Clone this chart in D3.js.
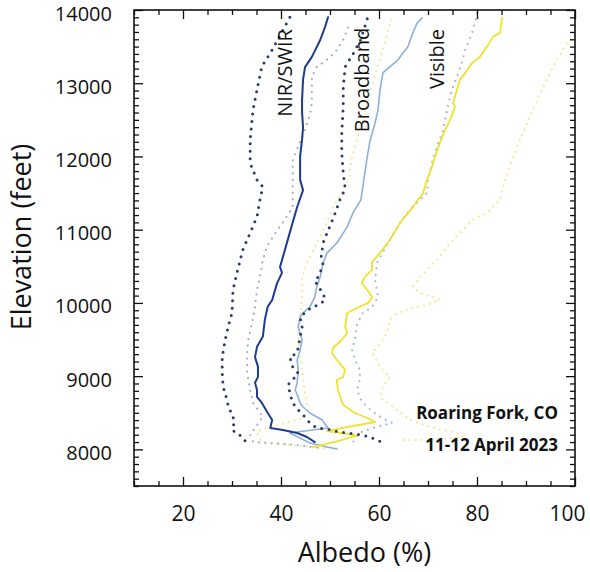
<!DOCTYPE html>
<html>
<head>
<meta charset="utf-8">
<script src="https://cdn.jsdelivr.net/npm/d3@7"></script>
<style>
  html, body { margin: 0; padding: 0; background: #fff; }
  svg text { font-family: "Open Sans", "Noto Sans", sans-serif; fill: #111; }
</style>
</head>
<body>
<script>
// albedo (%) vs elevation (ft)
const nirMean = [[49.6,13900],[49.0,13770],[48.0,13590],[46.3,13360],[44.9,13220],[44.5,13050],[44.3,12770],[44.3,12600],[44.5,12400],[44.3,12230],[43.9,12000],[43.9,11680],[44.5,11540],[43.3,11310],[41.8,10960],[40.4,10630],[39.8,10490],[40.2,10410],[39.2,10270],[38.2,10040],[37.3,9950],[36.7,9770],[36.3,9540],[35.1,9400],[34.7,9260],[35.3,9130],[35.3,8990],[34.7,8910],[35.1,8810],[35.1,8716],[36.1,8634],[37.3,8497],[38.2,8402],[37.8,8292],[40.4,8265],[43.3,8224],[45.3,8169],[46.9,8100]];
const nirLow = [[41.8,13900],[38.2,13456],[36.1,13230],[35.1,12910],[34.3,12640],[33.7,12230],[33.7,11910],[35.1,11680],[36.3,11584],[35.7,11407],[35.1,11175],[33.7,10956],[32.2,10724],[31.0,10410],[30.2,10177],[30.0,9863],[29.2,9672],[28.6,9494],[28.0,9262],[28.0,9044],[28.2,8852],[28.6,8770],[29.2,8606],[30.0,8470],[30.6,8374],[30.0,8292],[30.6,8224],[31.6,8197],[32.7,8115],[33.7,8095]];
const nirHigh = [[57.6,13880],[56.3,13600],[54.7,13400],[53.1,13224],[52.7,12950],[52.7,12677],[52.4,12322],[52.4,12049],[52.7,11776],[53.1,11560],[52.0,11407],[50.8,11180],[49.6,10990],[48.6,10820],[48.2,10628],[48.6,10520],[47.6,10355],[46.9,10314],[47.6,10218],[48.6,10136],[49.0,10041],[47.6,9972],[46.3,9945],[43.9,9809],[44.3,9672],[43.9,9535],[43.3,9317],[41.8,9262],[42.4,9126],[43.5,9044],[42.4,8950],[41.4,8880],[41.8,8784],[42.2,8675],[42.9,8579],[43.9,8511],[44.9,8443],[45.9,8361],[47.3,8292],[49.0,8279],[50.6,8265],[51.6,8238],[53.5,8224],[55.1,8210],[56.7,8197],[58.6,8156],[59.8,8115],[60.8,8101]];

const bbMean = [[68.8,13893],[67.8,13825],[66.9,13688],[65.9,13497],[64.9,13415],[63.9,13320],[62.2,13224],[60.8,13142],[60.2,12909],[59.8,12636],[59.2,12459],[58.2,12226],[57.6,11994],[57.1,11776],[56.7,11584],[56.3,11407],[54.7,11229],[53.5,11038],[51.4,10819],[49.4,10683],[48.6,10546],[48.0,10355],[47.3,10218],[46.9,10082],[45.9,9945],[44.5,9863],[43.9,9809],[43.5,9672],[44.3,9494],[43.9,9358],[43.3,9221],[43.5,9085],[43.3,8907],[42.9,8811],[43.5,8716],[43.9,8634],[44.5,8579],[45.9,8497],[48.4,8402],[49.6,8292],[43.3,8238],[41.8,8224],[45.9,8087],[49.4,8033],[51.4,8005]];
const bbLow = [[53.7,13760],[52.7,13592],[51.0,13415],[49.0,13300],[47.3,13224],[46.3,13087],[46.3,12909],[46.3,12731],[45.9,12567],[44.5,12300],[42.4,11950],[42.4,11600],[42.4,11311],[40.4,11100],[38.8,10950],[37.1,10765],[36.3,10587],[35.7,10355],[35.1,10177],[34.7,9945],[34.1,9727],[33.3,9494],[33.1,9317],[33.1,9044],[33.7,8811],[34.3,8634],[36.3,8443],[35.1,8330],[33.7,8200],[34.3,8101],[37.3,8087],[40.4,8074],[43.3,8060],[46.3,8033],[48.0,8020]];
const bbHigh = [[80.0,13960],[79.6,13825],[79.0,13688],[77.6,13456],[76.9,13278],[75.9,13087],[75.1,12950],[74.5,12813],[73.9,12636],[73.5,12500],[72.9,12322],[71.8,12131],[70.8,11912],[70.0,11680],[69.8,11502],[66.3,11270],[64.7,11134],[62.2,10860],[59.6,10546],[59.2,10314],[59.8,10082],[58.6,9945],[56.5,9850],[55.5,9700],[55.1,9500],[54.5,9358],[55.1,9221],[56.1,9085],[56.1,8950],[55.5,8811],[56.5,8650],[58.6,8520],[60.8,8420],[62.7,8361],[58.8,8292],[56.1,8230],[54.7,8101]];

const visMean = [[85.1,13893],[84.7,13688],[83.3,13633],[82.0,13497],[80.6,13360],[79.0,13278],[77.6,13142],[76.5,13046],[75.9,12909],[75.1,12731],[75.5,12677],[74.5,12500],[73.5,12363],[72.4,12185],[71.4,11994],[70.8,11857],[69.8,11680],[69.0,11502],[66.9,11311],[64.3,11093],[62.2,10860],[60.2,10683],[58.6,10560],[58.6,10451],[57.1,10355],[56.5,10273],[57.6,10177],[58.6,10082],[57.8,10000],[55.5,9931],[53.5,9863],[53.1,9672],[53.5,9590],[52.4,9494],[50.6,9385],[50.4,9317],[51.4,9221],[53.1,9085],[52.7,8989],[51.4,8948],[51.6,8811],[52.7,8606],[55.1,8497],[57.6,8429],[59.2,8374],[53.1,8300],[49.4,8250],[55.5,8190],[51.4,8110],[46.5,8030]];
const visLow = [[62.5,13870],[61.0,13500],[59.2,13115],[57.6,12700],[55.5,12226],[54.5,11994],[53.7,11680],[52.4,11500],[50.6,11311],[49.4,11093],[47.3,10819],[45.3,10546],[44.3,10355],[44.3,10082],[43.9,9860],[43.5,9590],[43.9,9300],[44.5,9000],[44.9,8750],[45.5,8550],[44.3,8420],[40.4,8350],[36.5,8280],[35.1,8240],[36.0,8100],[40.0,8070],[45.0,8040],[50.0,8010]];
const visHigh = [[100.0,13660],[98.4,13551],[95.5,13224],[93.5,12950],[91.4,12636],[89.4,12322],[88.2,12131],[86.7,11857],[85.3,11584],[84.7,11407],[82.0,11229],[79.2,11134],[77.1,10997],[74.5,10819],[72.4,10628],[70.4,10492],[68.4,10355],[66.9,10218],[68.4,10136],[71.0,10082],[72.4,10041],[69.8,9972],[66.9,9931],[63.7,9863],[62.2,9768],[61.8,9631],[60.8,9494],[59.6,9399],[58.6,9317],[60.2,9126],[62.2,8989],[60.8,8852],[60.2,8716],[63.7,8538],[66.3,8402],[70.4,8306],[73.1,8265],[75.9,8224],[77.1,8169],[70.4,8128],[64.9,8128]];

const bandLabels = ["NIR/SWIR", "Broadband", "Visible"];
const siteLabels = ["Roaring Fork, CO", "11-12 April 2023"];
const xTicks = [20, 40, 60, 80, 100];
const yTicks = [8000, 9000, 10000, 11000, 12000, 13000, 14000];
const xTitle = "Albedo (%)";
const yTitle = "Elevation (feet)";

(function() {
    const W = 590, H = 572;
    const left = 134, right = 575, top = 10, bottom = 486;

    const svg = d3.select("body").append("svg")
        .attr("width", W)
        .attr("height", H);

    const x = d3.scaleLinear().domain([10, 100]).range([left, right]);
    const y = d3.scaleLinear().domain([7500, 14000]).range([bottom, top]);

    svg.append("clipPath").attr("id", "plot")
        .append("rect")
        .attr("x", left).attr("y", top)
        .attr("width", right - left).attr("height", bottom - top);

    const line = d3.line()
        .x(d => x(d[0]))
        .y(d => y(d[1]));

    const g = svg.append("g").attr("clip-path", "url(#plot)");

    // dotted = spread, solid = mean; back to front
    const series = [
        { data: visHigh, color: "#efe98c", width: 2.2, dots: "0 6" },
        { data: visLow, color: "#efe98c", width: 2.2, dots: "0 6" },
        { data: bbHigh, color: "#9fb6dc", width: 2.2, dots: "0 6.5" },
        { data: bbLow, color: "#9eaccb", width: 2.2, dots: "0 6.5" },
        { data: bbMean, color: "#8eb0da", width: 1.6 },
        { data: visMean, color: "#f0e22c", width: 1.8 },
        { data: nirHigh, color: "#2b3a6c", width: 3, dots: "0 7.5" },
        { data: nirLow, color: "#2b3a6c", width: 3, dots: "0 7.5" },
        { data: nirMean, color: "#1f3b8e", width: 2 }
    ];

    series.forEach(s => {
        g.append("path")
            .datum(s.data)
            .attr("fill", "none")
            .attr("stroke", s.color)
            .attr("stroke-width", s.width)
            .attr("stroke-linecap", "round")
            .attr("stroke-linejoin", "round")
            .attr("stroke-dasharray", s.dots || null)
            .attr("d", line);
    });

    // inward ticks on all four sides
    const yMinor = d3.range(7500, 14001, 100).filter(v => v % 1000 !== 0);
    const xMinor = d3.range(10, 101, 5).filter(v => v % 20 !== 0);

    function ticks(axis, tx, ty, values, size) {
        const a = svg.append("g")
            .attr("transform", `translate(${tx},${ty})`)
            .call(axis.tickValues(values).tickSize(size).tickFormat(""));
        a.select(".domain").remove();
        a.selectAll(".tick line").attr("stroke", "#111").attr("stroke-width", 1.3);
    }

    ticks(d3.axisRight(y), left, 0, yMinor, 5);
    ticks(d3.axisRight(y), left, 0, yTicks, 9);
    ticks(d3.axisLeft(y), right, 0, yMinor, 5);
    ticks(d3.axisLeft(y), right, 0, yTicks, 9);
    ticks(d3.axisTop(x), 0, bottom, xMinor, 5);
    ticks(d3.axisTop(x), 0, bottom, xTicks, 9);
    ticks(d3.axisBottom(x), 0, top, xMinor, 5);
    ticks(d3.axisBottom(x), 0, top, xTicks, 9);

    svg.append("rect")
        .attr("x", left).attr("y", top)
        .attr("width", right - left).attr("height", bottom - top)
        .attr("fill", "none")
        .attr("stroke", "#111")
        .attr("stroke-width", 1.6);

    // tick labels
    const yAxis = svg.append("g")
        .attr("transform", `translate(${left},0)`)
        .call(d3.axisLeft(y).tickValues(yTicks).tickSize(0).tickPadding(22).tickFormat(d3.format("d")));
    yAxis.select(".domain").remove();
    yAxis.selectAll("text")
        .attr("font-size", 20)
        .attr("dy", "0.5em")
        .style("font-family", "Open Sans");

    const xAxis = svg.append("g")
        .attr("transform", `translate(0,${bottom})`)
        .call(d3.axisBottom(x).tickValues(xTicks).tickSize(0).tickPadding(20));
    xAxis.select(".domain").remove();
    xAxis.selectAll("text")
        .attr("font-size", 21)
        .attr("dx", d => d === 100 ? -8 : 0)
        .style("font-family", "Open Sans");

    // axis titles
    svg.append("text")
        .attr("x", (left + right) / 2 + 10)
        .attr("y", 562)
        .attr("text-anchor", "middle")
        .attr("font-size", 27)
        .text(xTitle);

    svg.append("text")
        .attr("transform", "translate(31,237) rotate(-90)")
        .attr("text-anchor", "middle")
        .attr("font-size", 27)
        .text(yTitle);

    // band labels inside the plot
    const bandPos = [[292, 73], [369, 80], [444, 59]];
    bandLabels.forEach((t, i) => {
        svg.append("text")
            .attr("transform", `translate(${bandPos[i][0]},${bandPos[i][1]}) rotate(-90)`)
            .attr("text-anchor", "middle")
            .attr("font-size", 20)
            .text(t);
    });

    siteLabels.forEach((t, i) => {
        svg.append("text")
            .attr("x", 558)
            .attr("y", 419 + i * 32)
            .attr("text-anchor", "end")
            .attr("font-size", 17)
            .attr("font-weight", 700)
            .text(t);
    });
})();
</script>
</body>
</html>
